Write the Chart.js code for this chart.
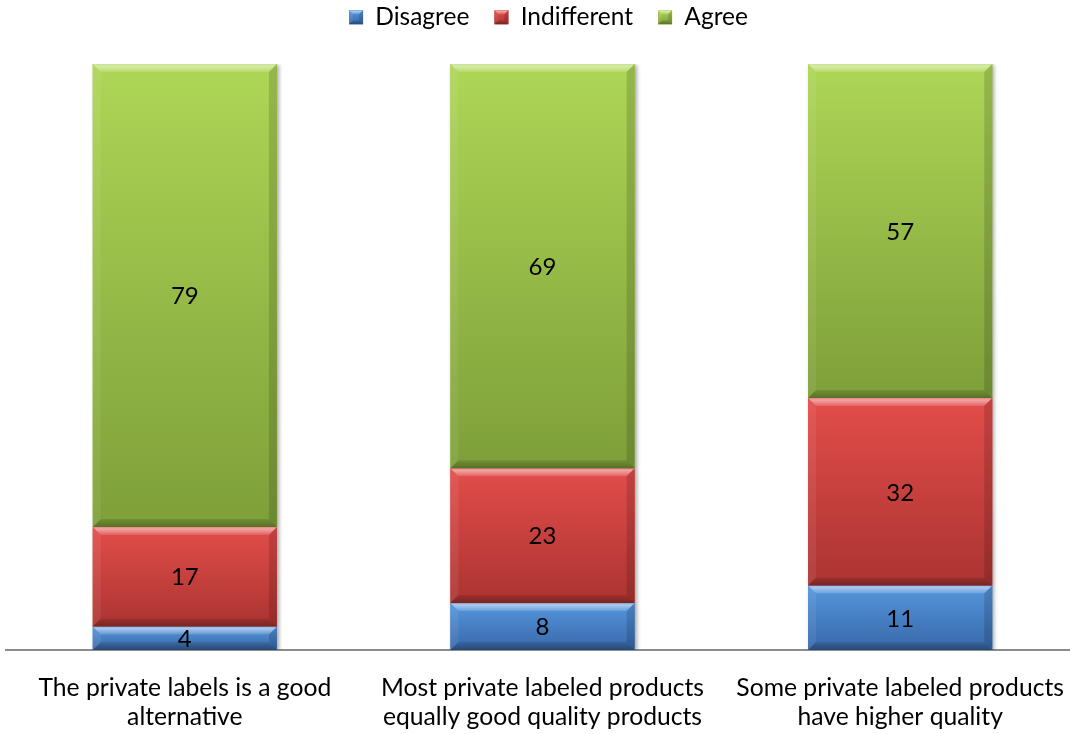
<!DOCTYPE html>
<html><head><meta charset="utf-8">
<script src="https://cdn.jsdelivr.net/npm/chart.js@4.4.1/dist/chart.umd.min.js"></script>
<style>
html,body{margin:0;padding:0;background:#fff;overflow:hidden;width:1070px;height:734px;}
#c{position:absolute;left:0;top:-20px;width:1079px;height:754px;}
</style></head><body>
<canvas id="c" width="1079" height="754"></canvas>
<script>
const categories = [
  ['The private labels is a good', 'alternative'],
  ['Most private labeled products', 'equally good quality products'],
  ['Some private labeled products', 'have higher quality']
];
const seriesNames = ['Disagree', 'Indifferent', 'Agree'];
const disagree = [4, 8, 11];
const indifferent = [17, 23, 32];
const agree = [79, 69, 57];
const yMin = 0, yMax = 100;

const baseColors = ['#4a81c4', '#cf4441', '#97bd4c'];
const gradColors = [
  {top: '#5596de', bot: '#3868a8'},
  {top: '#e24d4a', bot: '#ab3431'},
  {top: '#aed656', bot: '#7e9f39'}
];
const FONT = 'Lato, "Liberation Sans", sans-serif';
Chart.defaults.font.family = FONT;
Chart.defaults.color = '#000';
const LEGEND_SHIFT = 6;

function bevelRect(ctx, l, t, r, b, gc, bv) {
  const h = b - t;
  bv = Math.min(bv, h / 2.5, (r - l) / 2.5);
  const g = ctx.createLinearGradient(0, t, 0, b);
  g.addColorStop(0, gc.top);
  g.addColorStop(1, gc.bot);
  ctx.fillStyle = g;
  ctx.fillRect(l, t, r - l, h);
  let tg = ctx.createLinearGradient(0, t, 0, t + bv);
  tg.addColorStop(0, 'rgba(255,255,255,0.30)');
  tg.addColorStop(0.25, 'rgba(255,255,255,0.50)');
  tg.addColorStop(1, 'rgba(255,255,255,0.12)');
  ctx.fillStyle = tg;
  ctx.beginPath(); ctx.moveTo(l, t); ctx.lineTo(r, t); ctx.lineTo(r - bv, t + bv); ctx.lineTo(l + bv, t + bv); ctx.closePath(); ctx.fill();
  let bg = ctx.createLinearGradient(0, b - bv, 0, b);
  bg.addColorStop(0, 'rgba(0,0,0,0.10)');
  bg.addColorStop(1, 'rgba(0,0,0,0.30)');
  ctx.fillStyle = bg;
  ctx.beginPath(); ctx.moveTo(l, b); ctx.lineTo(r, b); ctx.lineTo(r - bv, b - bv); ctx.lineTo(l + bv, b - bv); ctx.closePath(); ctx.fill();
  ctx.fillStyle = 'rgba(255,255,255,0.07)';
  ctx.beginPath(); ctx.moveTo(l, t); ctx.lineTo(l + bv, t + bv); ctx.lineTo(l + bv, b - bv); ctx.lineTo(l, b); ctx.closePath(); ctx.fill();
  ctx.fillStyle = 'rgba(0,0,0,0.14)';
  ctx.beginPath(); ctx.moveTo(r, t); ctx.lineTo(r - bv, t + bv); ctx.lineTo(r - bv, b - bv); ctx.lineTo(r, b); ctx.closePath(); ctx.fill();
}

const bevelPlugin = {
  id: 'bevel',
  beforeInit(chart) {
    const lg = chart.legend;
    const fit = lg.fit;
    lg.fit = function () { fit.call(this); this.height = 84; };
    const draw = lg.draw;
    lg.draw = function () {
      const ctx = this.ctx;
      ctx.save(); ctx.translate(LEGEND_SHIFT, 0);
      draw.call(this);
      ctx.restore();
    };
  },
  beforeDatasetsDraw(chart) {
    const ctx = chart.ctx;
    ctx.save();
    ctx.shadowColor = 'rgba(0,0,0,0.35)';
    ctx.shadowBlur = 4;
    ctx.shadowOffsetX = 2;
    ctx.shadowOffsetY = 1;
  },
  afterDatasetsDraw(chart) {
    const ctx = chart.ctx;
    ctx.restore();
    ctx.save();
    chart.data.datasets.forEach((ds, di) => {
      const meta = chart.getDatasetMeta(di);
      meta.data.forEach((el) => {
        const p = el.getProps(['x', 'y', 'base', 'width'], true);
        const l = p.x - p.width / 2, r = p.x + p.width / 2;
        const t = Math.min(p.y, p.base), b = Math.max(p.y, p.base);
        bevelRect(ctx, l, t, r, b, gradColors[di], 8);
      });
    });
    ctx.fillStyle = '#000';
    ctx.font = '24px ' + FONT;
    ctx.textAlign = 'center';
    ctx.textBaseline = 'middle';
    chart.data.datasets.forEach((ds, di) => {
      const meta = chart.getDatasetMeta(di);
      meta.data.forEach((el, i) => {
        const p = el.getProps(['x', 'y', 'base'], true);
        ctx.fillText(String(ds.data[i]), p.x, (p.y + p.base) / 2 + 1);
      });
    });
    ctx.restore();
  },
  afterDraw(chart) {
    const lg = chart.legend;
    if (!lg || !lg.legendHitBoxes) return;
    const ctx = chart.ctx;
    ctx.save();
    const fs = lg.options.labels.font.size;
    lg.legendHitBoxes.forEach((hb, i) => {
      const bh = 14;
      const x = hb.left + LEGEND_SHIFT, y = hb.top + Math.max((fs - bh) / 2, 0);
      bevelRect(ctx, x, y, x + 14, y + bh, gradColors[i], 4);
    });
    ctx.restore();
  }
};

new Chart(document.getElementById('c'), {
  type: 'bar',
  data: {
    labels: categories,
    datasets: [
      {label: seriesNames[0], data: disagree, backgroundColor: baseColors[0], borderWidth: 0},
      {label: seriesNames[1], data: indifferent, backgroundColor: baseColors[1], borderWidth: 0},
      {label: seriesNames[2], data: agree, backgroundColor: baseColors[2], borderWidth: 0}
    ]
  },
  options: {
    responsive: false,
    maintainAspectRatio: false,
    animation: false,
    devicePixelRatio: 1,
    layout: {padding: {left: 6, right: 0, top: 0, bottom: 0}},
    datasets: {bar: {barPercentage: 0.515, categoryPercentage: 1.0}},
    plugins: {
      legend: {
        position: 'top',
        labels: {boxWidth: 14, boxHeight: 14, padding: 25, color: '#000', font: {size: 24.5, family: FONT}}
      },
      tooltip: {enabled: false}
    },
    scales: {
      x: {
        stacked: true,
        grid: {display: false, drawTicks: true, tickLength: 23},
        border: {display: true, color: '#8c8c8c', width: 2},
        ticks: {padding: 0, color: '#000', maxRotation: 0, autoSkip: false, font: {size: 24.7, family: FONT, lineHeight: 1.2}},
        afterFit(scale) { scale.height = 84; }
      },
      y: {
        stacked: true,
        display: false,
        min: yMin,
        max: yMax
      }
    }
  },
  plugins: [bevelPlugin]
});
</script>
</body></html>
